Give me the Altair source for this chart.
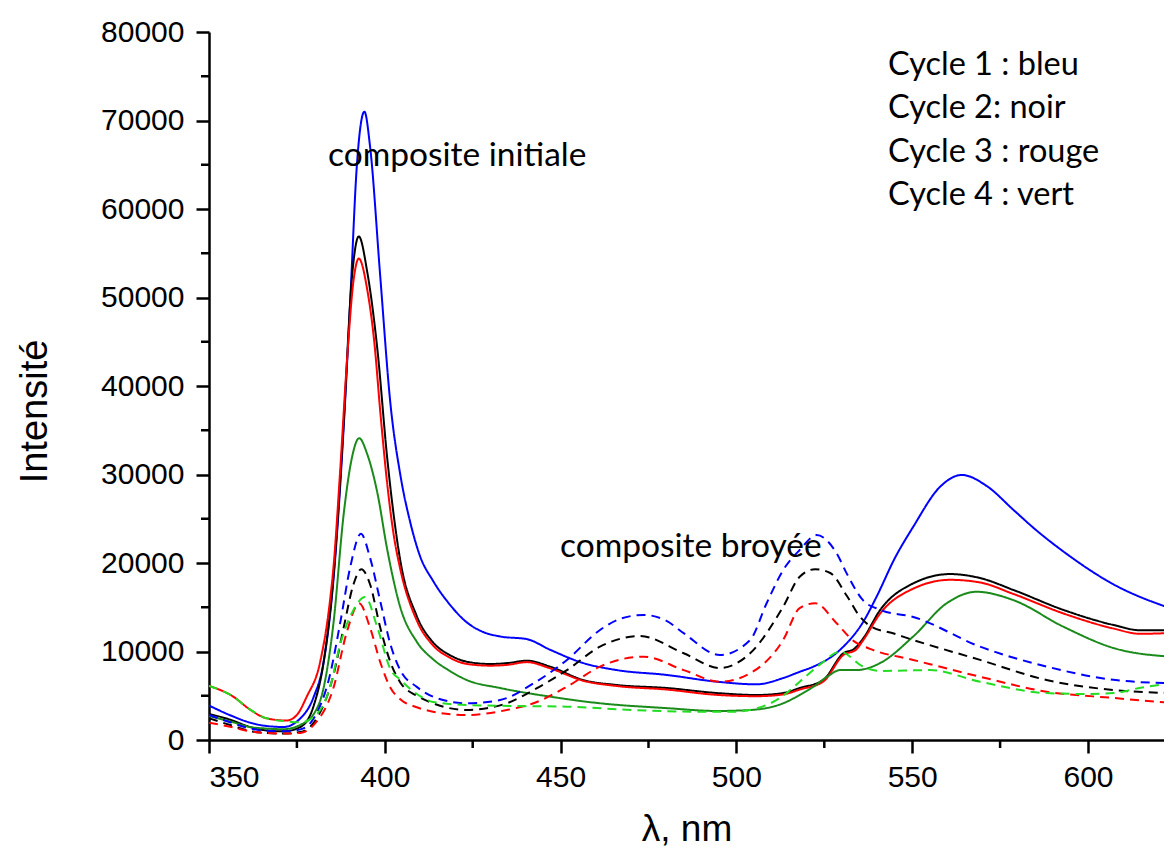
import altair as alt
import pandas as pd

# ---------------- data ----------------
# solid lines: composite initiale ; dashed lines: composite broyée
blue_init_x = [350, 356, 361.7, 366, 371.2, 376, 379.8, 382.6, 385.4, 388.3, 390.2, 392, 394.2, 395.8, 398.7,
               401.6, 404.4, 407.3, 410, 413.7, 418.5, 423.3, 428, 432.8, 440.4, 447, 456.4, 466, 480.2,
               494.4, 505.8, 513.3, 518.1, 521.9, 529.5, 536.1, 540, 545, 550.3, 557.9, 564.1, 571.2, 578.8,
               585, 593, 607.2, 624]
blue_init_y = [3900, 2800, 1960, 1600, 1470, 2450, 4900, 8800, 18100, 35300, 49900, 64600, 71000, 67100, 52400,
               38000, 30000, 24500, 20800, 18000, 15300, 13300, 12200, 11700, 11400, 10200, 8700, 7900, 7350,
               6590, 6290, 7000, 7720, 8290, 10200, 13370, 16300, 20500, 24100, 28600, 29950, 28700, 26000,
               23800, 21300, 17600, 14800]

black_init_x = [350, 356, 361.7, 366, 371.2, 376, 379.8, 382.6, 385.4, 388.3, 390.6, 392.6, 395, 397.9, 400.7,
                404.4, 409.1, 413.8, 418.5, 423.3, 429.9, 435, 440.4, 447, 456.4, 466, 480.2, 494.4, 505.8, 513.3,
                518, 524.7, 530.4, 533.5, 536.1, 540.9, 550.3, 560.8, 569.3, 578.8, 593, 607.2, 614.8, 624]
black_init_y = [2940, 2300, 1470, 1100, 980, 1470, 3900, 8800, 18500, 35800, 52000, 56900, 52900, 44100, 31800,
                20300, 14000, 11000, 9600, 8850, 8590, 8700, 8960, 8290, 6780, 6215, 5875, 5310, 5085, 5310,
                5875, 6780, 9800, 10300, 11500, 14700, 17700, 18750, 18300, 16950, 14700, 13000, 12400, 12400]

red_init_x = [350, 356.9, 361.7, 366.4, 372.1, 375, 377.8, 381.6, 384.4, 385.4, 387.3, 389.2, 391.1, 392.6, 395,
              397, 398.8, 400.7, 402.6, 404.3, 409.1, 413.7, 418.5, 423.3, 430, 435, 440.4, 447, 456.4, 466,
              480.2, 494.4, 505.8, 513.3, 518, 524.7, 530.4, 534, 536.1, 540.9, 550.3, 560.8, 569.3, 578.8,
              593, 607.2, 614.8, 624]
red_init_y = [6120, 4900, 3430, 2450, 2200, 2840, 4900, 8800, 15700, 19500, 30400, 42600, 51900, 54400, 50900,
              45000, 36700, 28900, 23000, 19500, 13500, 10700, 9300, 8600, 8400, 8500, 8800, 8100, 6700, 6100,
              5700, 5100, 4950, 5150, 5700, 6600, 9600, 10200, 11300, 14300, 17100, 18100, 17800, 16500,
              14300, 12600, 12000, 12100]

green_init_x = [350, 356, 361.7, 366, 371.2, 376, 379.8, 382.6, 385.4, 388.3, 390.6, 392.7, 395, 397.9, 400.7,
                404.4, 409.1, 413.8, 418.5, 423.3, 432.8, 447, 461.2, 480.2, 494.4, 503.9, 513.3, 518, 521.9,
                526, 529.5, 534.2, 540.9, 550.3, 559.8, 568.3, 578.8, 593, 607.2, 624]
green_init_y = [2700, 2100, 1470, 1300, 1220, 1710, 2940, 5900, 13200, 25500, 31800, 34100, 32300, 27900, 21500,
                15000, 11100, 9100, 7800, 6780, 5875, 4900, 4150, 3600, 3280, 3390, 4150, 5085, 6020,
                7200, 7900, 7900, 8700, 11700, 15450, 16750, 15800, 12800, 10400, 9400]

blue_broy_x = [350, 356, 361.7, 366, 371.2, 376, 379.8, 384.4, 387.3, 390.2, 393.2, 395.8, 398.7, 401.6, 404.4,
               409.1, 413.7, 423.3, 432.8, 442.3, 451.8, 461.2, 467, 473.6, 480, 485, 495.3, 503.9, 508.6,
               513.3, 518, 522.8, 528.5, 531.4, 536, 541, 550.3, 569.3, 588.2, 607.2, 624]
blue_broy_y = [2840, 2000, 1300, 1050, 980, 1200, 2450, 7350, 13200, 19600, 23300, 20600, 15700, 10800, 7900,
               6000, 4900, 4150, 4520, 6400, 9050, 12430, 13700, 14130, 13500, 12070, 9600, 11300, 15450,
               19200, 21470, 23150, 21100, 18800, 15800, 14700, 13900, 10550, 8300, 6800, 6400]

black_broy_x = [350, 356, 361.7, 366, 371.2, 376, 379.8, 385.4, 388.3, 391.1, 393.3, 395.8, 398.7, 401.6, 404.4,
                409.1, 413.7, 423.3, 434.7, 442.3, 451.8, 461.2, 472.6, 485, 495.3, 503.9, 513.3, 518, 522.4,
                526.7, 531.4, 535, 538, 545, 550.3, 569.3, 588.2, 607.2, 624]
black_broy_y = [2450, 1700, 1000, 800, 730, 900, 1960, 7350, 12700, 17600, 19300, 17600, 12700, 8800, 6500,
                5000, 4150, 3390, 4150, 5650, 7900, 10540, 11750, 9800, 8130, 9800, 15060, 18450, 19300,
                18870, 16300, 14000, 12900, 12000, 11300, 9050, 6780, 5650, 5300]

red_broy_x = [350, 356, 361.7, 366, 371.2, 376, 379.8, 385.4, 389.2, 392.7, 395.8, 398.7, 401.6, 404.4, 409.1,
              413.7, 423.3, 434.7, 442.3, 451.8, 461.2, 473.6, 485, 495.3, 503.9, 513.3, 518, 522.4, 528.5,
              533.3, 538, 550.3, 569.3, 588.2, 607.2, 624]
red_broy_y = [1960, 1500, 980, 800, 730, 800, 1710, 5900, 12200, 15450, 12700, 8800, 5900, 4600, 3700,
              3200, 2825, 3390, 4150, 6020, 8290, 9420, 7900, 6590, 7540, 11300, 14900, 15450, 13200,
              11200, 10300, 9050, 7150, 5460, 4750, 4180]

green_broy_x = [350, 356.9, 361.7, 366.4, 372.1, 376, 380.7, 384.4, 387.3, 391.1, 394.4, 397.9, 401.6, 404.4,
                409.1, 413.7, 423.3, 437.6, 451.8, 470.7, 489.7, 499.2, 508.6, 513.3, 518, 524, 529.5, 536,
                541, 555, 569.3, 588.2, 600, 607.2, 615, 624]
green_broy_y = [6120, 4900, 3430, 2450, 2100, 2000, 2940, 5900, 10800, 14700, 16160, 12700, 8000, 6800,
                5200, 4300, 3960, 3840, 3770, 3390, 3200, 3200, 3960, 5000, 6590, 8600, 9980, 8290,
                7800, 7900, 6590, 5300, 5200, 5300, 5900, 6400]

x_ticks_major = [350, 400, 450, 500, 550, 600]
x_ticks_minor = [375, 425, 475, 525, 575]
y_ticks_major = [0, 10000, 20000, 30000, 40000, 50000, 60000, 70000, 80000]
y_ticks_minor = [5000, 15000, 25000, 35000, 45000, 55000, 65000, 75000]

legend_lines = ["Cycle 1 : bleu", "Cycle 2: noir", "Cycle 3 : rouge", "Cycle 4 : vert"]

series = [
    ("c1_init", blue_init_x, blue_init_y, "#0000ff", "solid"),
    ("c2_init", black_init_x, black_init_y, "#000000", "solid"),
    ("c3_init", red_init_x, red_init_y, "#ff0000", "solid"),
    ("c4_init", green_init_x, green_init_y, "#1a8a1a", "solid"),
    ("c1_broy", blue_broy_x, blue_broy_y, "#0000ff", "dash"),
    ("c2_broy", black_broy_x, black_broy_y, "#000000", "dash"),
    ("c3_broy", red_broy_x, red_broy_y, "#ff0000", "dash"),
    ("c4_broy", green_broy_x, green_broy_y, "#22dd22", "dash"),
]

rows = []
for name, xs, ys, col, sty in series:
    for xv, yv in zip(xs, ys):
        rows.append({"serie": name, "lam": xv, "I": yv})
df = pd.DataFrame(rows)

W, H = 955, 708
XMAX = 350 + W / 3.516

xscale = alt.Scale(domain=[350, XMAX], nice=False, zero=False)
yscale = alt.Scale(domain=[0, 80000], nice=False)

AXIS_FONT = "Liberation Sans"
TEXT_FONT = "Lato"

x_axis = alt.Axis(values=x_ticks_major, title="λ, nm", tickSize=13, tickWidth=2.5, tickColor="black",
                  domainColor="black", domainWidth=2.5, labelFont=AXIS_FONT, labelFontSize=30,
                  labelColor="black", labelPadding=9, titleFont=AXIS_FONT, titleFontSize=37,
                  titleFontWeight="normal", titleColor="black", titlePadding=19, grid=False, format="d")
y_axis = alt.Axis(values=y_ticks_major, title="Intensité", tickSize=13, tickWidth=2.5, tickColor="black",
                  domainColor="black", domainWidth=2.5, labelFont=AXIS_FONT, labelFontSize=30,
                  labelColor="black", labelPadding=12, titleFont=AXIS_FONT, titleFontSize=38,
                  titleFontWeight="normal", titleColor="black", titlePadding=46, titleY=379,
                  grid=False, format="d")

base = alt.Chart(df)
layers = []
first = True
for name, xs, ys, col, sty in series:
    mk = base.transform_filter(alt.datum.serie == name).mark_line(
        clip=True, interpolate="monotone", color=col, strokeWidth=2,
        strokeDash=[1, 0] if sty == "solid" else [9, 6])
    if first:
        enc = mk.encode(x=alt.X("lam:Q", scale=xscale, axis=x_axis),
                        y=alt.Y("I:Q", scale=yscale, axis=y_axis))
        first = False
    else:
        enc = mk.encode(x=alt.X("lam:Q", scale=xscale), y=alt.Y("I:Q", scale=yscale))
    layers.append(enc)

minor_x = alt.Chart(pd.DataFrame({"lam": x_ticks_minor})).mark_rule(
    color="black", strokeWidth=2.5).encode(
    x=alt.X("lam:Q", scale=xscale), y=alt.value(H), y2=alt.value(H + 8))
minor_y = alt.Chart(pd.DataFrame({"I": y_ticks_minor})).mark_rule(
    color="black", strokeWidth=2.5).encode(
    y=alt.Y("I:Q", scale=yscale), x=alt.value(0), x2=alt.value(-8))

ann_init = alt.Chart(pd.DataFrame({"t": ["composite initiale"]})).mark_text(
    align="left", baseline="alphabetic", font=TEXT_FONT, fontSize=33.5, color="black").encode(
    text="t:N", x=alt.value(328 - 209), y=alt.value(166 - 32))
ann_broy = alt.Chart(pd.DataFrame({"t": ["composite broyée"]})).mark_text(
    align="left", baseline="alphabetic", font=TEXT_FONT, fontSize=33.5, color="black").encode(
    text="t:N", x=alt.value(560 - 209), y=alt.value(557 - 32))
legend_txt = alt.Chart(pd.DataFrame({"t": legend_lines, "k": list(range(len(legend_lines)))})).mark_text(
    align="left", baseline="alphabetic", font=TEXT_FONT, fontSize=32.5, color="black").encode(
    text="t:N",
    x=alt.value(888 - 209),
    y=alt.Y("k:Q", axis=None, scale=alt.Scale(type="linear", domain=[0, len(legend_lines) - 1],
                                               range=[75 - 32, 205 - 32])))

chart = alt.layer(*layers, minor_x, minor_y, ann_init, ann_broy, legend_txt).resolve_scale(
    y="independent").properties(
    width=W, height=H, autosize=alt.AutoSizeParams(type="none"),
    padding={"left": 201, "top": 24, "right": 0, "bottom": 109},
).configure_view(strokeWidth=0)

chart.save("out.html", embed_options={"renderer": "svg", "actions": False})
